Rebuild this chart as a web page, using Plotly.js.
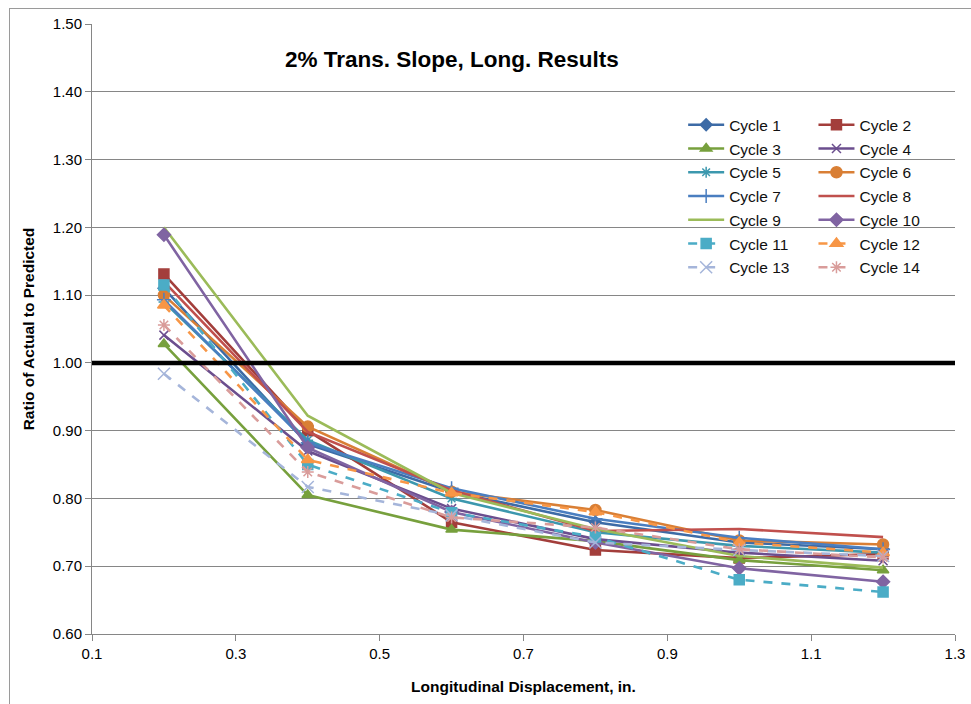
<!DOCTYPE html>
<html>
<head>
<meta charset="utf-8">
<script src="https://cdn.plot.ly/plotly-3.0.1.min.js"></script>
<style>
html,body{margin:0;padding:0;background:#fff;overflow:hidden;}
#frame{position:absolute;left:9px;top:8px;width:1000px;height:760px;border:1px solid #9a9a9a;box-sizing:border-box;pointer-events:none;z-index:5;}
#chart{position:absolute;left:0;top:0;width:971px;height:704px;}
</style>
</head>
<body>
<div id="chart"></div>
<div id="frame"></div>
<script>
// Data
const displacement = [0.2, 0.4, 0.6, 0.8, 1.0, 1.2];
const cycleNames = ["Cycle 1","Cycle 2","Cycle 3","Cycle 4","Cycle 5","Cycle 6","Cycle 7",
                    "Cycle 8","Cycle 9","Cycle 10","Cycle 11","Cycle 12","Cycle 13","Cycle 14"];
const cycle1  = [1.110, 0.880, 0.810, 0.765, 0.735, 0.725];
const cycle2  = [1.131, 0.900, 0.765, 0.724, 0.712, 0.718];
const cycle3  = [1.028, 0.805, 0.754, 0.737, 0.709, 0.694];
const cycle4  = [1.041, 0.870, 0.785, 0.740, 0.720, 0.708];
const cycle5  = [1.090, 0.886, 0.800, 0.750, 0.730, 0.720];
const cycle6  = [1.100, 0.906, 0.810, 0.783, 0.738, 0.732];
const cycle7  = [1.093, 0.882, 0.815, 0.770, 0.742, 0.725];
const cycle8  = [1.120, 0.898, 0.812, 0.752, 0.755, 0.743];
const cycle9  = [1.200, 0.922, 0.808, 0.755, 0.715, 0.698];
const cycle10 = [1.189, 0.875, 0.780, 0.735, 0.697, 0.677];
const cycle11 = [1.115, 0.850, 0.779, 0.743, 0.680, 0.662];
const cycle12 = [1.085, 0.857, 0.808, 0.780, 0.735, 0.720];
const cycle13 = [0.984, 0.817, 0.775, 0.735, 0.724, 0.715];
const cycle14 = [1.056, 0.839, 0.772, 0.757, 0.725, 0.713];
const cycleValues = [cycle1,cycle2,cycle3,cycle4,cycle5,cycle6,cycle7,cycle8,cycle9,cycle10,cycle11,cycle12,cycle13,cycle14];
const referenceX = [0.1, 1.3];
const referenceY = [1.0, 1.0];

// Styles
const colors = ["#3d6ba6","#a33e3b","#77a03d","#6b4e8e","#3c98ae","#d97f35","#4a7ec0",
                "#c0504d","#9bbb59","#8064a2","#4bacc6","#f79646","#a5b5da","#d99c9a"];
const symbols = ["diamond","square","triangle-up","x-thin","asterisk","circle","cross-thin",
                 "line-ew","line-ew","diamond","square","triangle-up","x-thin","asterisk"];
const markerSizes = [9,10,10,9,9,11,10,0,0,10,10,11,12,10];

const traces = cycleValues.map((vals, i) => ({
  x: displacement, y: vals, name: cycleNames[i],
  type: 'scatter', mode: markerSizes[i] > 0 ? 'lines+markers' : 'lines',
  legend: (i % 2 === 0) ? 'legend' : 'legend2',
  legendgroup: 'g' + i,
  line: {color: colors[i], width: 2.6, dash: i >= 10 ? 'dash' : 'solid'},
  marker: {symbol: symbols[i], size: markerSizes[i], color: colors[i],
           line: {color: colors[i], width: 1.5}}
}));
traces.push({x: referenceX, y: referenceY, type: 'scatter', mode: 'lines',
  showlegend: false, hoverinfo: 'skip', line: {color: '#000', width: 4.5}});

const fam = 'Arial, "Liberation Sans", sans-serif';
const legendBase = {
  font: {family: fam, size: 15.5, color: '#111'},
  bgcolor: 'rgba(0,0,0,0)', borderwidth: 0, itemwidth: 36,
  tracegroupgap: 0.6, yanchor: 'top', xanchor: 'left', y: 0.862
};

const layout = {
  width: 971, height: 704,
  margin: {l: 92, r: 16, t: 24, b: 70},
  paper_bgcolor: '#fff', plot_bgcolor: '#fff',
  font: {family: fam, size: 15, color: '#000'},
  showlegend: true,
  xaxis: {
    range: [0.1, 1.3], dtick: 0.2, tick0: 0.1, tickformat: '.1f',
    showgrid: false, zeroline: false,
    showline: true, linecolor: '#868686', linewidth: 1,
    ticks: 'outside', ticklen: 6, tickcolor: '#868686',
    tickfont: {family: fam, size: 15, color: '#000'},
    title: {text: '<b>Longitudinal Displacement, in.</b>', font: {family: fam, size: 15.5, color: '#000'}, standoff: 20}
  },
  yaxis: {
    range: [0.6, 1.5], dtick: 0.1, tick0: 0.6, tickformat: '.2f',
    showgrid: true, gridcolor: '#868686', gridwidth: 1, zeroline: false,
    showline: true, linecolor: '#868686', linewidth: 1,
    ticks: 'outside', ticklen: 6, tickcolor: '#868686',
    tickfont: {family: fam, size: 15, color: '#000'},
    title: {text: '<b>Ratio of Actual to Predicted</b>', font: {family: fam, size: 15.5, color: '#000'}, standoff: 14}
  },
  legend: Object.assign({}, legendBase, {x: 0.685}),
  legend2: Object.assign({}, legendBase, {x: 0.836}),
  annotations: [{
    text: '<b>2% Trans. Slope, Long. Results</b>', xref: 'paper', yref: 'paper',
    x: 0.417, y: 0.941, xanchor: 'center', yanchor: 'middle', showarrow: false,
    font: {family: fam, size: 22.5, color: '#000'}
  }]
};

Plotly.newPlot('chart', traces, layout, {displayModeBar: false, staticPlot: true});
</script>
</body>
</html>
